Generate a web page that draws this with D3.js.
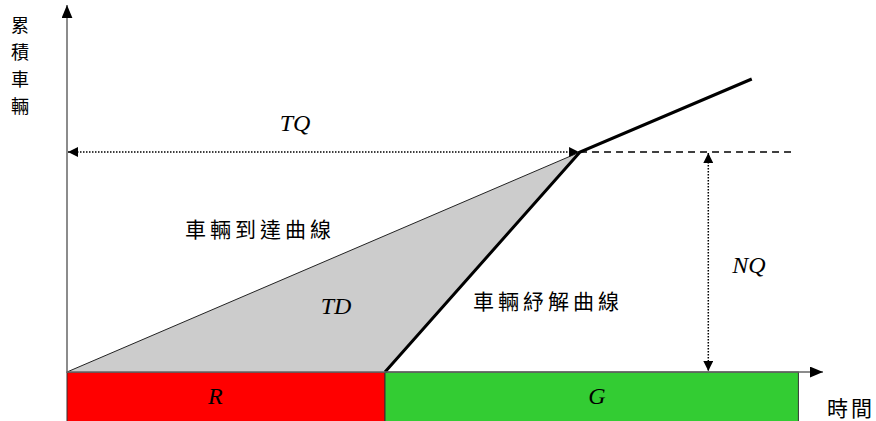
<!DOCTYPE html>
<html>
<head>
<meta charset="utf-8">
<script src="https://cdn.jsdelivr.net/npm/d3@7"></script>
<style>
  html, body { margin: 0; padding: 0; background: #fff; }
  svg { display: block; }
  .cjk { font-family: "Noto Sans CJK TC", "Noto Sans CJK SC", sans-serif; font-size: 21px; fill: #000; }
  .sym { font-family: "Liberation Serif", "DejaVu Serif", serif; font-style: italic; font-size: 24px; fill: #000; }
</style>
</head>
<body>
<div id="chart"></div>
<script>
// Signal phases along the time axis
var phaseNames = ['R', 'G'];
var phaseStart = [0, 30];
var phaseEnd = [30, 69];
var phaseColors = ['#ff0000', '#33cc33'];
var phaseLabelAt = [14, 50];

// Cumulative vehicle curves (time, vehicles)
var arrivalT = [0, 48.4];
var arrivalN = [0, 22];
var departT = [30, 48.4, 64.6];
var departN = [0, 22, 29.3];

// Queue markers
var queueT = 48.4;     // time where queue clears
var queueN = 22;       // NQ
var nqAt = 60.5;       // where the NQ arrow is drawn
var dashEnd = 68.4;

(function() {
    'use strict';

    var width = 876, height = 421;
    var x = d3.scaleLinear().domain([0, 75]).range([67, 67 + 75 * 10.6]);
    var y = d3.scaleLinear().domain([0, 36]).range([372, 12]);

    var svg = d3.select('#chart').append('svg')
        .attr('width', width)
        .attr('height', height);

    var defs = svg.append('defs');
    defs.append('marker')
        .attr('id', 'arr')
        .attr('viewBox', '0 0 10 10')
        .attr('refX', 10).attr('refY', 5)
        .attr('markerWidth', 10).attr('markerHeight', 10)
        .attr('markerUnits', 'userSpaceOnUse')
        .attr('orient', 'auto-start-reverse')
        .append('path')
        .attr('d', 'M0,0 L10,5 L0,10 Z')
        .attr('fill', '#000');
    defs.append('marker')
        .attr('id', 'axarr')
        .attr('viewBox', '0 0 12 10')
        .attr('refX', 12).attr('refY', 5)
        .attr('markerWidth', 13).attr('markerHeight', 11)
        .attr('markerUnits', 'userSpaceOnUse')
        .attr('orient', 'auto')
        .append('path')
        .attr('d', 'M0,0 L12,5 L0,10 Z')
        .attr('fill', '#000');

    // Phase bars
    var y0 = y(0);
    svg.append('g').selectAll('rect')
        .data(phaseNames)
        .join('rect')
        .attr('x', function(d, i) { return x(phaseStart[i]); })
        .attr('y', y0)
        .attr('width', function(d, i) { return x(phaseEnd[i]) - x(phaseStart[i]); })
        .attr('height', height - y0 + 2)
        .attr('fill', function(d, i) { return phaseColors[i]; })
        .attr('stroke', '#333')
        .attr('stroke-width', 1);

    svg.append('g').selectAll('text')
        .data(phaseNames)
        .join('text')
        .attr('class', 'sym')
        .attr('x', function(d, i) { return x(phaseLabelAt[i]); })
        .attr('y', 404)
        .attr('text-anchor', 'middle')
        .text(function(d) { return d; });

    // Delay area between the curves
    var poly = [];
    arrivalT.forEach(function(t, i) { poly.push([x(t), y(arrivalN[i])]); });
    poly.push([x(departT[0]), y(departN[0])]);
    svg.append('path')
        .attr('d', 'M' + poly.join('L') + 'Z')
        .attr('fill', '#cccccc');

    var line = d3.line();

    // Arrival curve (thin)
    svg.append('path')
        .attr('d', line(arrivalT.map(function(t, i) { return [x(t), y(arrivalN[i])]; })))
        .attr('fill', 'none')
        .attr('stroke', '#222')
        .attr('stroke-width', 1);

    // Departure curve (thick)
    svg.append('path')
        .attr('d', line(departT.map(function(t, i) { return [x(t), y(departN[i])]; })))
        .attr('fill', 'none')
        .attr('stroke', '#000')
        .attr('stroke-width', 3);

    // Dashed level of NQ
    svg.append('line')
        .attr('x1', x(queueT)).attr('x2', x(dashEnd))
        .attr('y1', y(queueN)).attr('y2', y(queueN))
        .attr('stroke', '#000')
        .attr('stroke-width', 1.5)
        .attr('stroke-dasharray', '7,5');

    // TQ dotted arrow
    svg.append('line')
        .attr('x1', x(0) + 1).attr('x2', x(queueT) - 1)
        .attr('y1', y(queueN)).attr('y2', y(queueN))
        .attr('stroke', '#000')
        .attr('stroke-width', 1.5)
        .attr('stroke-dasharray', '1.5,1.5')
        .attr('marker-start', 'url(#arr)')
        .attr('marker-end', 'url(#arr)');

    // NQ dotted arrow
    svg.append('line')
        .attr('x1', x(nqAt)).attr('x2', x(nqAt))
        .attr('y1', y(queueN) + 1).attr('y2', y(0) - 1)
        .attr('stroke', '#000')
        .attr('stroke-width', 1.5)
        .attr('stroke-dasharray', '1.5,1.5')
        .attr('marker-start', 'url(#arr)')
        .attr('marker-end', 'url(#arr)');

    // Axes
    svg.append('line')
        .attr('x1', x(0)).attr('x2', x(0))
        .attr('y1', y(0) + 1).attr('y2', 5)
        .attr('stroke', '#666')
        .attr('stroke-width', 1.5)
        .attr('marker-end', 'url(#axarr)');
    svg.append('line')
        .attr('x1', x(0)).attr('x2', 823)
        .attr('y1', y(0)).attr('y2', y(0))
        .attr('stroke', '#666')
        .attr('stroke-width', 1.5)
        .attr('marker-end', 'url(#axarr)');

    // Labels
    svg.append('text').attr('class', 'sym')
        .attr('x', 295).attr('y', 131).attr('text-anchor', 'middle').text('TQ');
    svg.append('text').attr('class', 'sym')
        .attr('x', 336).attr('y', 314).attr('text-anchor', 'middle').text('TD');
    svg.append('text').attr('class', 'sym')
        .attr('x', 749).attr('y', 273).attr('text-anchor', 'middle').text('NQ');

    svg.append('text').attr('class', 'cjk')
        .attr('x', 185).attr('y', 237)
        .attr('letter-spacing', 4)
        .text('車輛到達曲線');
    svg.append('text').attr('class', 'cjk')
        .attr('x', 473).attr('y', 309)
        .attr('letter-spacing', 4)
        .text('車輛紓解曲線');
    svg.append('text').attr('class', 'cjk')
        .attr('x', 827).attr('y', 416)
        .attr('letter-spacing', 3)
        .text('時間');

    var yLabel = ['累', '積', '車', '輛'];
    svg.append('g').selectAll('text')
        .data(yLabel)
        .join('text')
        .attr('class', 'cjk')
        .style('font-size', '18px')
        .attr('x', 20)
        .attr('y', function(d, i) { return 32 + i * 27; })
        .attr('text-anchor', 'middle')
        .text(function(d) { return d; });
})();
</script>
</body>
</html>
